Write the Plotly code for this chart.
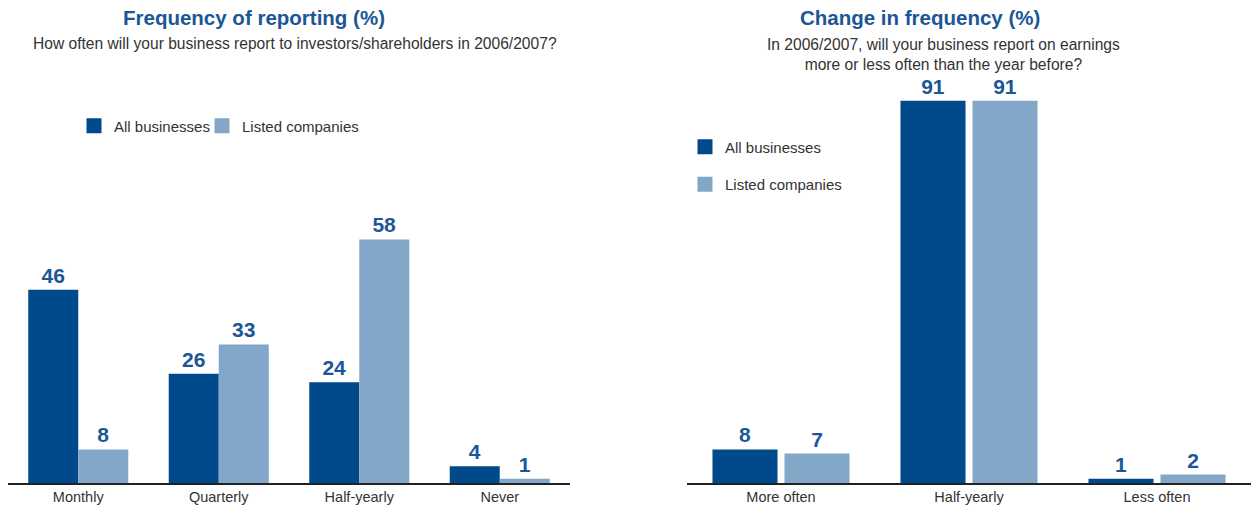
import plotly.graph_objects as go

# Left panel: how often businesses report
freq_categories = ["Monthly", "Quarterly", "Half-yearly", "Never"]
freq_all = [46, 26, 24, 4]
freq_listed = [8, 33, 58, 1]

# Right panel: change in reporting frequency
change_categories = ["More often", "Half-yearly", "Less often"]
change_all = [8, 91, 1]
change_listed = [7, 91, 2]

series_names = ["All businesses", "Listed companies"]

DARK = "#004a8c"
LIGHT = "#82a7c9"
LABEL_BLUE = "#1b5796"
TEXT = "#333333"
FONT = "Liberation Sans, Arial, sans-serif"

W, H = 1253, 506


def px_x(x):
    return x / W


def px_y(y):
    return 1 - y / H


fig = go.Figure()

label_font = dict(family=FONT, size=21, color=LABEL_BLUE, weight="bold")

# left panel bars: two adjacent bars per category, no gap inside the group
lw = 0.356
fig.add_trace(go.Bar(x=freq_categories, y=freq_all, name=series_names[0],
                     marker=dict(color=DARK, line=dict(width=0)),
                     width=lw, offset=-lw, text=freq_all, textposition="outside",
                     textfont=label_font, cliponaxis=False, showlegend=False,
                     xaxis="x", yaxis="y"))
fig.add_trace(go.Bar(x=freq_categories, y=freq_listed, name=series_names[1],
                     marker=dict(color=LIGHT, line=dict(width=0)),
                     width=lw, offset=0, text=freq_listed, textposition="outside",
                     textfont=label_font, cliponaxis=False, showlegend=False,
                     xaxis="x", yaxis="y"))

# right panel bars: small gap between the pair
rw = 0.346
rg = 0.037
fig.add_trace(go.Bar(x=change_categories, y=change_all, name=series_names[0],
                     marker=dict(color=DARK, line=dict(width=0)),
                     width=rw, offset=-(rw + rg / 2), text=change_all, textposition="outside",
                     textfont=label_font, cliponaxis=False, showlegend=False,
                     xaxis="x2", yaxis="y2"))
fig.add_trace(go.Bar(x=change_categories, y=change_listed, name=series_names[1],
                     marker=dict(color=LIGHT, line=dict(width=0)),
                     width=rw, offset=rg / 2, text=change_listed, textposition="outside",
                     textfont=label_font, cliponaxis=False, showlegend=False,
                     xaxis="x2", yaxis="y2"))

# legend swatches: left panel uses one legend per entry (laid out in a row),
# right panel stacks both entries in a single vertical legend
legend_slots = [("legend", 0), ("legend3", 1), ("legend2", 0), ("legend2", 1)]
for legend_id, idx in legend_slots:
    fig.add_trace(go.Scatter(x=[None], y=[None], mode="markers", name=series_names[idx],
                             marker=dict(symbol="square", size=15, color=[DARK, LIGHT][idx]),
                             legend=legend_id, legendgroup=legend_id + str(idx),
                             xaxis="x", yaxis="y"))

y_bottom = px_y(483)
y_top = px_y(63)

axis_common = dict(type="category", showline=True, linecolor="#222222", linewidth=1.5,
                   showgrid=False, zeroline=False, ticks="", fixedrange=True,
                   tickfont=dict(family=FONT, size=14.5, color=TEXT))
yaxis_common = dict(range=[0, 100], visible=False, fixedrange=True)
legend_font = dict(family=FONT, size=15, color=TEXT)
legend_common = dict(font=legend_font, bgcolor="rgba(0,0,0,0)", xanchor="left",
                     yanchor="middle", itemclick=False, itemdoubleclick=False)

fig.update_layout(
    width=W, height=H,
    margin=dict(l=0, r=0, t=0, b=0),
    paper_bgcolor="white", plot_bgcolor="white",
    barmode="overlay",
    xaxis=dict(domain=[px_x(8), px_x(570)], range=[-0.5, 3.5], anchor="y", **axis_common),
    yaxis=dict(domain=[y_bottom, y_top], anchor="x", **yaxis_common),
    xaxis2=dict(domain=[px_x(687), px_x(1251)], range=[-0.5, 2.5], anchor="y2", **axis_common),
    yaxis2=dict(domain=[y_bottom, y_top], anchor="x2", **yaxis_common),
    legend=dict(orientation="h", x=px_x(74), y=px_y(126), **legend_common),
    legend3=dict(orientation="h", x=px_x(202), y=px_y(126), **legend_common),
    legend2=dict(orientation="v", x=px_x(685), y=px_y(165.5), tracegroupgap=15,
                 **legend_common),
    showlegend=True,
)

annotations = [
    dict(text="<b>Frequency of reporting (%)</b>", x=px_x(254), y=px_y(17),
         font=dict(family=FONT, size=20.5, color=LABEL_BLUE)),
    dict(text="How often will your business report to investors/shareholders in 2006/2007?",
         x=px_x(295), y=px_y(44), font=dict(family=FONT, size=15.6, color=TEXT)),
    dict(text="<b>Change in frequency (%)</b>", x=px_x(920), y=px_y(17),
         font=dict(family=FONT, size=20.5, color=LABEL_BLUE)),
    dict(text="In 2006/2007, will your business report on earnings<br>more or less often than the year before?",
         x=px_x(943), y=px_y(54), font=dict(family=FONT, size=15.6, color=TEXT)),
]
for a in annotations:
    fig.add_annotation(xref="paper", yref="paper", xanchor="center", yanchor="middle",
                       showarrow=False, align="center", **a)

fig.write_html("out.html")
